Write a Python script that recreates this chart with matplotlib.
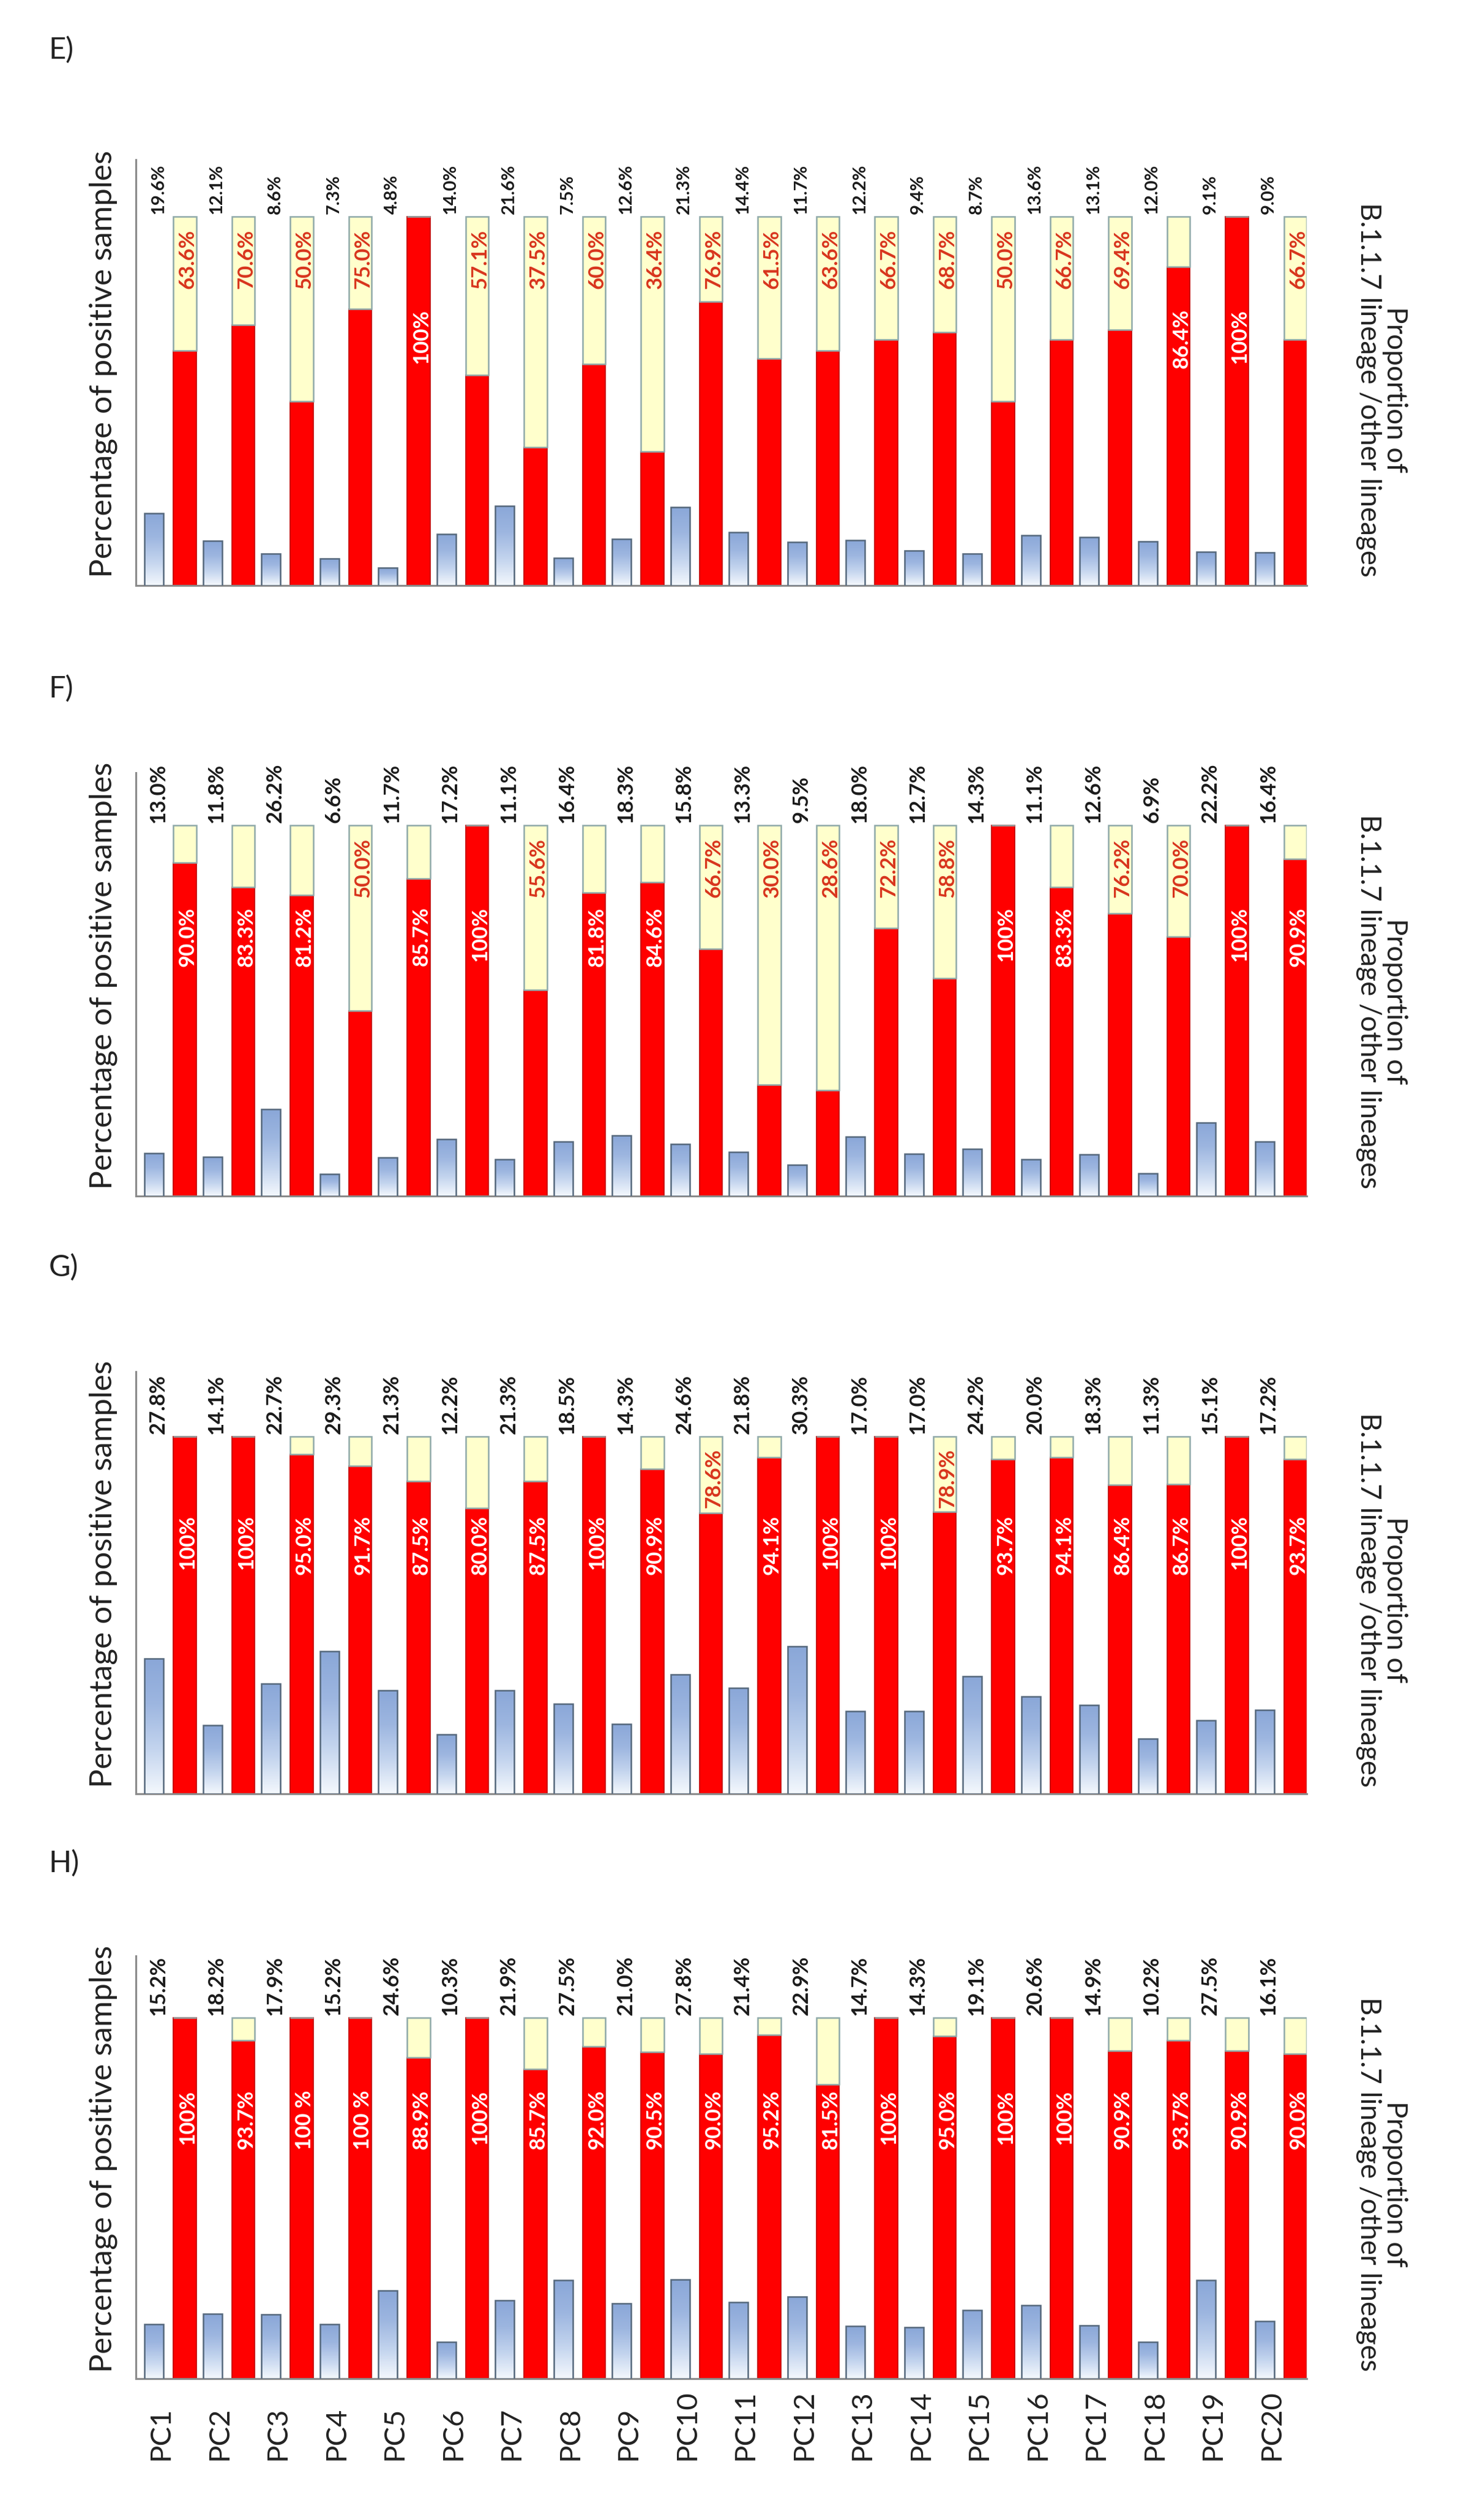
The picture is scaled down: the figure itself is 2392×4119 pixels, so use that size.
import matplotlib
matplotlib.use('Agg')
import matplotlib.pyplot as plt
import numpy as np
from matplotlib.colors import LinearSegmentedColormap

plt.rcParams['font.family'] = ['Lato', 'DejaVu Sans']

pcs = ['PC' + str(i) for i in range(1, 21)]

# percentage of positive samples (blue bars)
e_pos = [19.6, 12.1, 8.6, 7.3, 4.8, 14.0, 21.6, 7.5, 12.6, 21.3,
         14.4, 11.7, 12.2, 9.4, 8.7, 13.6, 13.1, 12.0, 9.1, 9.0]
f_pos = [13.0, 11.8, 26.2, 6.6, 11.7, 17.2, 11.1, 16.4, 18.3, 15.8,
         13.3, 9.5, 18.0, 12.7, 14.3, 11.1, 12.6, 6.9, 22.2, 16.4]
g_pos = [27.8, 14.1, 22.7, 29.3, 21.3, 12.2, 21.3, 18.5, 14.3, 24.6,
         21.8, 30.3, 17.0, 17.0, 24.2, 20.0, 18.3, 11.3, 15.1, 17.2]
h_pos = [15.2, 18.2, 17.9, 15.2, 24.6, 10.3, 21.9, 27.5, 21.0, 27.8,
         21.4, 22.9, 14.7, 14.3, 19.1, 20.6, 14.9, 10.2, 27.5, 16.1]

# proportion of B.1.1.7 lineage (red part of stacked bars)
e_b117 = [63.6, 70.6, 50.0, 75.0, 100, 57.1, 37.5, 60.0, 36.4, 76.9,
          61.5, 63.6, 66.7, 68.7, 50.0, 66.7, 69.4, 86.4, 100, 66.7]
f_b117 = [90.0, 83.3, 81.2, 50.0, 85.7, 100, 55.6, 81.8, 84.6, 66.7,
          30.0, 28.6, 72.2, 58.8, 100, 83.3, 76.2, 70.0, 100, 90.9]
g_b117 = [100, 100, 95.0, 91.7, 87.5, 80.0, 87.5, 100, 90.9, 78.6,
          94.1, 100, 100, 78.9, 93.7, 94.1, 86.4, 86.7, 100, 93.7]
h_b117 = [100, 93.7, 100, 100, 88.9, 100, 85.7, 92.0, 90.5, 90.0,
          95.2, 81.5, 100, 95.0, 100, 100, 90.9, 93.7, 90.9, 90.0]
h_b117_text = {2: '100 %', 3: '100 %'}

W, H = 2392, 4119
fig = plt.figure(figsize=(W / 100, H / 100), dpi=100)

blue_cmap = LinearSegmentedColormap.from_list(
    'blue_grad', ['#f4f8fd', '#c3d4ee', '#9db6e0', '#8aa7d8'])
grad = np.linspace(0, 1, 256).reshape(-1, 1)

# letter, values, label y, top of spine, 100% level, baseline (px), blue axis max, white label level, blue label size
panels = [
    ('E)', e_pos, e_b117, {}, 81, 261, 354, 957, 100, 75, 21),
    ('F)', f_pos, f_b117, {}, 1125, 1263, 1349, 1955, 112, 78, 25),
    ('G)', g_pos, g_b117, {}, 2071, 2242, 2348, 2932, 73.5, 78, 25),
    ('H)', h_pos, h_b117, h_b117_text, 3045, 3197, 3298, 3888, 101, 80, 25),
]

x = np.arange(len(pcs))
pitch = 95.5
x0_px = 277
left_px, right_px = 222, 2135
xlim = ((left_px - x0_px) / pitch, (right_px - x0_px) / pitch)
off = 0.262
bw, rw = 0.325, 0.39

for n, (letter, pos, b117, txt_over, let_y, sp_top, top100, base, bmax, wlev, bsize) in enumerate(panels):
    ax = fig.add_axes([left_px / W, 1 - base / H, (right_px - left_px) / W, (base - sp_top) / H])
    ytop = 100 * (base - sp_top) / (base - top100)
    ax.set_xlim(*xlim)
    ax.set_ylim(0, ytop)

    other = [100 - v for v in b117]
    ax.bar(x + off, b117, rw, color='#ff0000', edgecolor='#c00000', linewidth=1.2, zorder=2)
    ax.bar(x + off, other, rw, bottom=b117, color='#ffffcc', edgecolor='#8fa9a9', linewidth=1.8, zorder=2)

    ax2 = ax.twinx()
    bars = ax2.bar(x - off, pos, bw, facecolor='none', edgecolor='#55687c', linewidth=1.8, zorder=3)
    for rect in bars:
        bx, by = rect.get_xy()
        im = ax2.imshow(grad, extent=[bx, bx + rect.get_width(), 0, rect.get_height()],
                        origin='lower', cmap=blue_cmap, aspect='auto', zorder=2)
        im.set_clip_path(rect)
    ax2.set_xlim(*xlim)
    ax2.set_ylim(0, bmax * ytop / 100)

    for a in (ax, ax2):
        a.set_yticks([])
        a.set_xticks([])
        for s in a.spines.values():
            s.set_visible(False)
    ax.spines['left'].set_visible(True)
    ax.spines['bottom'].set_visible(True)
    for s in ('left', 'bottom'):
        ax.spines[s].set_color('#8a8a8a')
        ax.spines[s].set_linewidth(2.2)

    # blue labels above the stacks
    for i, v in enumerate(pos):
        ax.text(i - off + 0.07, 100.6, f'{v:.1f}%', rotation=90, ha='center', va='bottom',
                fontsize=bsize, fontweight='bold', color='#1a1a1a', zorder=5)

    # B.1.1.7 labels
    for i, v in enumerate(b117):
        s = txt_over.get(i, '100%' if v >= 100 else f'{v:.1f}%')
        if v < 80:
            ax.text(i + off + 0.05, 96.6, s, rotation=90, ha='center', va='top',
                    fontsize=25, fontweight='bold', color='#d8341c', zorder=5)
        else:
            ax.text(i + off + 0.05, wlev, s, rotation=90, ha='center', va='top',
                    fontsize=25, fontweight='bold', color='white', zorder=5)

    ax.text(-0.028, 0.52, 'Percentage of positive samples', transform=ax.transAxes,
            rotation=90, ha='center', va='center', fontsize=37, color='#222222')
    ax.text(1.064, 0.46, 'Proportion of\nB.1.1.7 lineage /other lineages', transform=ax.transAxes,
            rotation=270, ha='center', va='center', multialignment='center',
            fontsize=33, color='#222222', linespacing=1.05)
    fig.text(80 / W, 1 - let_y / H, letter, ha='left', va='center', fontsize=35, color='#222222')

    if n == len(panels) - 1:
        ylab = -(4021 - base) / (base - sp_top)
        for i, p in enumerate(pcs):
            ax.text(i - 0.15, ylab, p, rotation=90, ha='center', va='bottom',
                    fontsize=34, color='#222222', transform=ax.get_xaxis_transform())

fig.savefig('out.png', dpi=100, facecolor='white')
